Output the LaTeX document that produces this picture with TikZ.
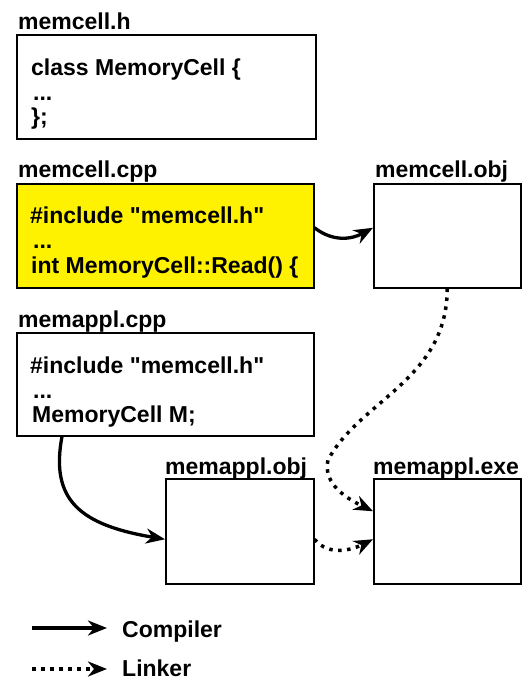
\documentclass[tikz,border=0pt]{standalone}
\usepackage{fontspec}
\setmainfont{Liberation Sans}[Ligatures=TeXOff]
\usetikzlibrary{arrows.meta}
\begin{document}
\begin{tikzpicture}[x=1pt, y=-1pt,
	box/.style={draw, line width=1.5pt, anchor=north west, inner sep=0pt, minimum height=104pt},
	title/.style={anchor=base west, inner sep=0pt, font=\bfseries\fontsize{23}{25}\selectfont},
	code/.style={anchor=base west, inner sep=0pt, font=\bfseries\fontsize{23}{25}\selectfont},
	comp/.style={line width=3.3pt, -{Stealth[length=19pt, width=15pt, inset=6pt]}},
	link/.style={line width=3.5pt, dash pattern=on 3.5pt off 5.5pt, -{Stealth[length=19pt, width=15pt, inset=6pt]}}]
	\useasboundingbox (0,0) rectangle (529,681);
	% files
	\node[box, minimum width=299pt] (hbox) at (16,34) {};
	\node[box, minimum width=297pt, fill=yellow] (cpp) at (16,183) {};
	\node[box, minimum width=147pt] (cobj) at (373,183) {};
	\node[box, minimum width=297pt, minimum height=103pt] (acpp) at (16,332) {};
	\node[box, minimum width=148pt, minimum height=105pt] (aobj) at (165,478) {};
	\node[box, minimum width=147pt, minimum height=105pt] (exe) at (373,478) {};
	% file names
	\node[title] (hname) at ([shift={(2pt,5pt)}]hbox.north west) {memcell.h};
	\node[title] (cppname) at ([shift={(2pt,6pt)}]cpp.north west) {memcell.cpp};
	\node[title] (cobjname) at ([shift={(2pt,6pt)}]cobj.north west) {memcell.obj};
	\node[title] (acppname) at ([shift={(2pt,5pt)}]acpp.north west) {memappl.cpp};
	\node[title] (aobjname) at ([shift={(0pt,4pt)}]aobj.north west) {memappl.obj};
	\node[title] (exename) at ([shift={(0pt,4pt)}]exe.north west) {memappl.exe};
	% contents
	\node[code] (h1) at ([shift={(15pt,-41pt)}]hbox.north west) {class MemoryCell \{};
	\node[code] (h2) at ([shift={(17pt,-66pt)}]hbox.north west) {...};
	\node[code] (h3) at ([shift={(15pt,-90pt)}]hbox.north west) {\};};
	\node[code] (c1) at ([shift={(14pt,-40pt)}]cpp.north west) {\#include "memcell.h"};
	\node[code] (c2) at ([shift={(17pt,-65pt)}]cpp.north west) {...};
	\node[code] (c3) at ([shift={(15pt,-90pt)}]cpp.north west) {int MemoryCell::Read() \{};
	\node[code] (a1) at ([shift={(14pt,-41pt)}]acpp.north west) {\#include "memcell.h"};
	\node[code] (a2) at ([shift={(17pt,-66pt)}]acpp.north west) {...};
	\node[code] (a3) at ([shift={(16pt,-90pt)}]acpp.north west) {MemoryCell M;};
	% compiling
	\draw[comp] ([yshift=8pt]cpp.east) .. controls +(18,14) and +(-22,12) .. ([yshift=8pt]cobj.west);
	\draw[comp] ([xshift=46pt]acpp.south west) .. controls (50,500) and (80,525) .. ([yshift=-8pt]aobj.west);
	% linking
	\draw[link] (cobj.south) .. controls (447,380) and (360,400) .. (328,460)
		.. controls (322,485) and (350,500) .. ([yshift=20pt]exe.west);
	\draw[link] ([yshift=-8pt]aobj.east) .. controls +(15,18) and +(-20,10) .. ([yshift=-8pt]exe.west);
	% legend
	\coordinate (comp1) at (32,628);
	\coordinate (comp2) at (107,628);
	\coordinate (link1) at (32,669);
	\coordinate (link2) at (107,669);
	\node[title] (compiler) at (122,637) {Compiler};
	\node[title] (linker) at (122,676) {Linker};
	\draw[comp] (comp1) -- (comp2);
	\draw[link] (link1) -- (link2);
\end{tikzpicture}
\end{document}
